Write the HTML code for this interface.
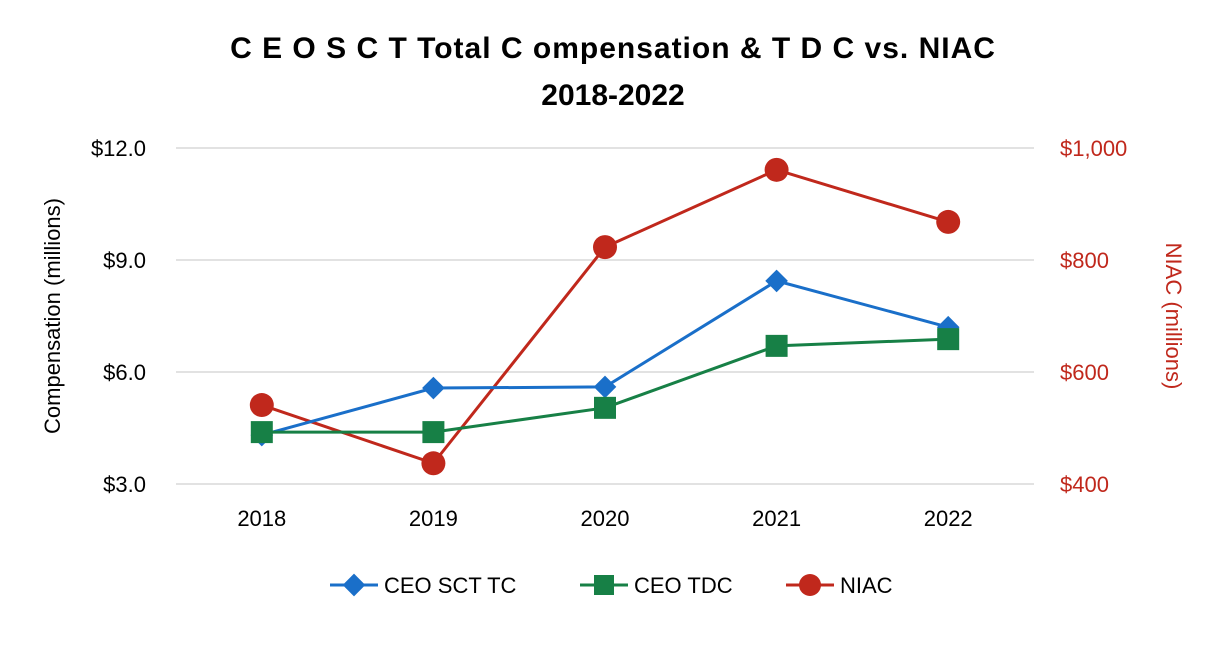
<!DOCTYPE html>
<html><head><meta charset="utf-8"><style>
body{margin:0;background:#fff;}
svg text{font-family:"Liberation Sans",Arial,sans-serif;}
</style></head><body>
<svg id="chart" width="1226" height="640" viewBox="0 0 1226 640">
<text x="613" y="58" text-anchor="middle" font-size="30" font-weight="bold" letter-spacing="1">C E O  S C T Total C ompensation &amp; T D C  vs. NIAC</text>
<text x="613" y="105" text-anchor="middle" font-size="30" font-weight="bold">2018-2022</text>
<g id="grid"></g><g id="axes"></g><g id="series"></g>
<text transform="translate(60,316) rotate(-90)" text-anchor="middle" font-size="22" fill="#000">Compensation (millions)</text>
<text transform="translate(1166,316) rotate(90)" text-anchor="middle" font-size="22" fill="#c0281c">NIAC (millions)</text>
<g>
<g><line x1="330" y1="585" x2="378" y2="585" stroke="#1a6fc9" stroke-width="3"/><rect x="346" y="577" width="16" height="16" fill="#1a6fc9" transform="rotate(45 354 585)"/><text x="384" y="593" font-size="22">CEO SCT TC</text></g>
<g><line x1="580" y1="585" x2="628" y2="585" stroke="#178046" stroke-width="3"/><rect x="594" y="575" width="20" height="20" fill="#178046"/><text x="634" y="593" font-size="22">CEO TDC</text></g>
<g><line x1="786" y1="585" x2="834" y2="585" stroke="#c0281c" stroke-width="3"/><circle cx="810" cy="585" r="11" fill="#c0281c"/><text x="840" y="593" font-size="22">NIAC</text></g>
</g>
</svg>
<script>
const years=["2018","2019","2020","2021","2022"];
const sctTC=[4.31,5.57,5.6,8.44,7.2];
const tdc=[4.39,4.39,5.04,6.7,6.88];
const niac=[541,437,823,961,868];
const leftTicks=[3,6,9,12];
const leftLabels=["$3.0","$6.0","$9.0","$12.0"];
const rightTicks=[400,600,800,1000];
const rightLabels=["$400","$600","$800","$1,000"];
const NS="http://www.w3.org/2000/svg";
const X0=176,X1=1034,Y0=484,Y1=148;
const xs=i=>X0+(X1-X0)/years.length*(i+0.5);
const yl=v=>Y0-(v-3)/(12-3)*(Y0-Y1);
const yr=v=>Y0-(v-400)/(1000-400)*(Y0-Y1);
function mk(tag,at,parent){const e=document.createElementNS(NS,tag);for(const k in at)e.setAttribute(k,at[k]);document.getElementById(parent).appendChild(e);return e;}
leftTicks.forEach((t,i)=>{
 const g=mk('line',{x1:X0,x2:X1,y1:yl(t),y2:yl(t),stroke:'#d9d9d9','stroke-width':1.5},'grid');
 
 
 const l=mk('text',{x:146,y:yl(t)+8,'text-anchor':'end','font-size':22},'axes');l.textContent=leftLabels[i];
 
 
});
rightTicks.forEach((t,i)=>{
 const l=mk('text',{x:1060,y:yr(t)+8,'font-size':22,fill:'#c0281c'},'axes');l.textContent=rightLabels[i];
 
 
});
years.forEach((y,i)=>{
 const l=mk('text',{x:xs(i),y:526,'text-anchor':'middle','font-size':22},'axes');l.textContent=y;
 
 
});
function series(vals,fy,color,shape,name){
 const p=mk('polyline',{points:vals.map((v,i)=>xs(i)+','+fy(v)).join(' '),fill:'none',stroke:color,'stroke-width':3},'series');
 
 
 vals.forEach((v,i)=>{
  const x=xs(i),y=fy(v);let m;
  if(shape==='d')m=mk('rect',{x:x-8,y:y-8,width:16,height:16,fill:color,transform:`rotate(45 ${x} ${y})`},'series');
  else if(shape==='s')m=mk('rect',{x:x-11,y:y-11,width:22,height:22,fill:color},'series');
  else m=mk('circle',{cx:x,cy:y,r:12,fill:color},'series');
  
  
 });
}
series(niac,yr,'#c0281c','c','niac');
series(sctTC,yl,'#1a6fc9','d','ceo-sct-tc');
series(tdc,yl,'#178046','s','ceo-tdc');
</script>
</body></html>
